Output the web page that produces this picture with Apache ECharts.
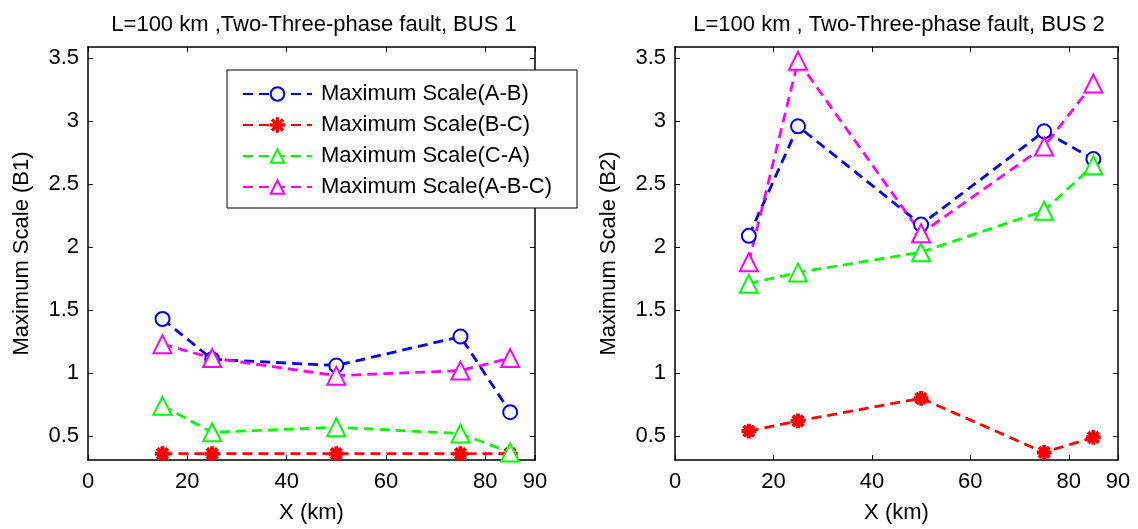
<!DOCTYPE html>
<html>
<head>
<meta charset="utf-8">
<script src="https://cdn.jsdelivr.net/npm/echarts@6/dist/echarts.min.js"></script>
<style>
  html, body { margin: 0; padding: 0; background: #fff; }
  #main { width: 1138px; height: 529px; }
</style>
</head>
<body>
<div id="main"></div>
<script>
var distances = [15, 25, 50, 75, 85];
var xTicks = [0, 20, 40, 60, 80, 90];
var yTicks = [0.5, 1, 1.5, 2, 2.5, 3, 3.5];

var seriesNames = ['Maximum Scale(A-B)', 'Maximum Scale(B-C)', 'Maximum Scale(C-A)', 'Maximum Scale(A-B-C)'];

// BUS 1
var b1AB = [1.43, 1.11, 1.06, 1.29, 0.69];
var b1BC = [0.36, 0.36, 0.36, 0.36, 0.36];
var b1CA = [0.74, 0.53, 0.57, 0.52, 0.37];
var b1ABC = [1.23, 1.12, 0.98, 1.02, 1.12];

// BUS 2
var b2AB = [2.09, 2.96, 2.18, 2.92, 2.70];
var b2BC = [0.54, 0.62, 0.80, 0.37, 0.49];
var b2CA = [1.71, 1.80, 1.96, 2.29, 2.65];
var b2ABC = [1.88, 3.48, 2.11, 2.80, 3.30];

var FONT = 'Liberation Sans, Arial, sans-serif';
var FS = 22;
var colors = ['#0000ff', '#ff0000', '#00ff00', '#ff00ff'];
// asterisk marker
var star = 'path://M-1,-10 L1,-10 L1,10 L-1,10 Z M-10,-1 L10,-1 L10,1 L-10,1 Z M-7.8,-6.4 L-6.4,-7.8 L7.8,6.4 L6.4,7.8 Z M6.4,-7.8 L7.8,-6.4 L-6.4,7.8 L-7.8,6.4 Z';
var symbols = ['emptyCircle', star, 'emptyTriangle', 'emptyTriangle'];
var sizes = [14, 12, 18, 18];

function pairs(vals) {
  return distances.map(function (d, i) { return [d, vals[i]]; });
}

function makeSeries(idx, vals, axisIdx) {
  return {
    name: seriesNames[idx],
    type: 'line',
    xAxisIndex: axisIdx,
    yAxisIndex: axisIdx,
    data: pairs(vals),
    symbol: symbols[idx],
    symbolSize: sizes[idx],
    showAllSymbol: true,
    animation: false,
    lineStyle: { color: colors[idx], width: 2.8, type: [10, 6] },
    itemStyle: { color: colors[idx], borderColor: colors[idx], borderWidth: 2.8 },
    z: 3
  };
}

function xAxisDef(gridIdx, name) {
  return {
    type: 'value', gridIndex: gridIdx, min: 0, max: 90,
    name: name, nameLocation: 'middle', nameGap: 42,
    nameTextStyle: { fontFamily: FONT, fontSize: FS, color: '#000' },
    axisLine: { show: true, onZero: false, lineStyle: { color: '#000', width: 1.5 } },
    axisTick: { show: true, inside: true, length: 5, customValues: xTicks, lineStyle: { color: '#000' } },
    axisLabel: { customValues: xTicks, fontFamily: FONT, fontSize: FS, color: '#000', margin: 11 },
    splitLine: { show: false }
  };
}
function xTopDef(gridIdx) {
  return {
    type: 'value', gridIndex: gridIdx, min: 0, max: 90, position: 'top',
    axisLine: { show: true, onZero: false, lineStyle: { color: '#000', width: 1.5 } },
    axisTick: { show: true, inside: true, length: 5, customValues: xTicks, lineStyle: { color: '#000' } },
    axisLabel: { show: false },
    splitLine: { show: false }
  };
}
function yAxisDef(gridIdx, name) {
  return {
    type: 'value', gridIndex: gridIdx, min: 0.31, max: 3.59,
    name: name, nameLocation: 'middle', nameGap: 55,
    nameTextStyle: { fontFamily: FONT, fontSize: FS, color: '#000' },
    axisLine: { show: true, onZero: false, lineStyle: { color: '#000', width: 1.5 } },
    axisTick: { show: true, inside: true, length: 5, customValues: yTicks, lineStyle: { color: '#000' } },
    axisLabel: { customValues: yTicks, fontFamily: FONT, fontSize: FS, color: '#000', margin: 9 },
    splitLine: { show: false }
  };
}
function yRightDef(gridIdx) {
  return {
    type: 'value', gridIndex: gridIdx, min: 0.31, max: 3.59, position: 'right',
    axisLine: { show: true, onZero: false, lineStyle: { color: '#000', width: 1.5 } },
    axisTick: { show: true, inside: true, length: 5, customValues: yTicks, lineStyle: { color: '#000' } },
    axisLabel: { show: false },
    splitLine: { show: false }
  };
}

var option = {
  backgroundColor: '#fff',
  animation: false,
  title: [{
    text: 'L=100 km ,Two-Three-phase fault, BUS 1',
    left: 309, top: 9, textAlign: 'center',
    textStyle: { fontFamily: FONT, fontSize: FS, fontWeight: 'normal', color: '#000' }
  }, {
    text: 'L=100 km , Two-Three-phase fault, BUS 2',
    left: 894, top: 9, textAlign: 'center',
    textStyle: { fontFamily: FONT, fontSize: FS, fontWeight: 'normal', color: '#000' }
  }],
  legend: {
    orient: 'vertical',
    left: 227, top: 70,
    data: seriesNames,
    padding: [13, 25, 10, 15],
    itemWidth: 69, itemHeight: 17, itemGap: 9,
    backgroundColor: '#fff',
    borderColor: '#000', borderWidth: 1, borderRadius: 0,
    textStyle: { fontFamily: FONT, fontSize: FS, color: '#000', padding: [0, 0, 0, 4] },
    z: 10
  },
  grid: [
    { left: 88, right: 603, top: 47, bottom: 67 },
    { left: 675, right: 20, top: 47, bottom: 67 }
  ],
  xAxis: [xAxisDef(0, 'X (km)'), xAxisDef(1, 'X (km)'), xTopDef(0), xTopDef(1)],
  yAxis: [yAxisDef(0, 'Maximum Scale (B1)'), yAxisDef(1, 'Maximum Scale (B2)'), yRightDef(0), yRightDef(1)],
  series: [
    makeSeries(0, b1AB, 0), makeSeries(1, b1BC, 0), makeSeries(2, b1CA, 0), makeSeries(3, b1ABC, 0),
    makeSeries(0, b2AB, 1), makeSeries(1, b2BC, 1), makeSeries(2, b2CA, 1), makeSeries(3, b2ABC, 1)
  ]
};

var chart = echarts.init(document.getElementById('main'));
chart.setOption(option);
</script>
</body>
</html>
